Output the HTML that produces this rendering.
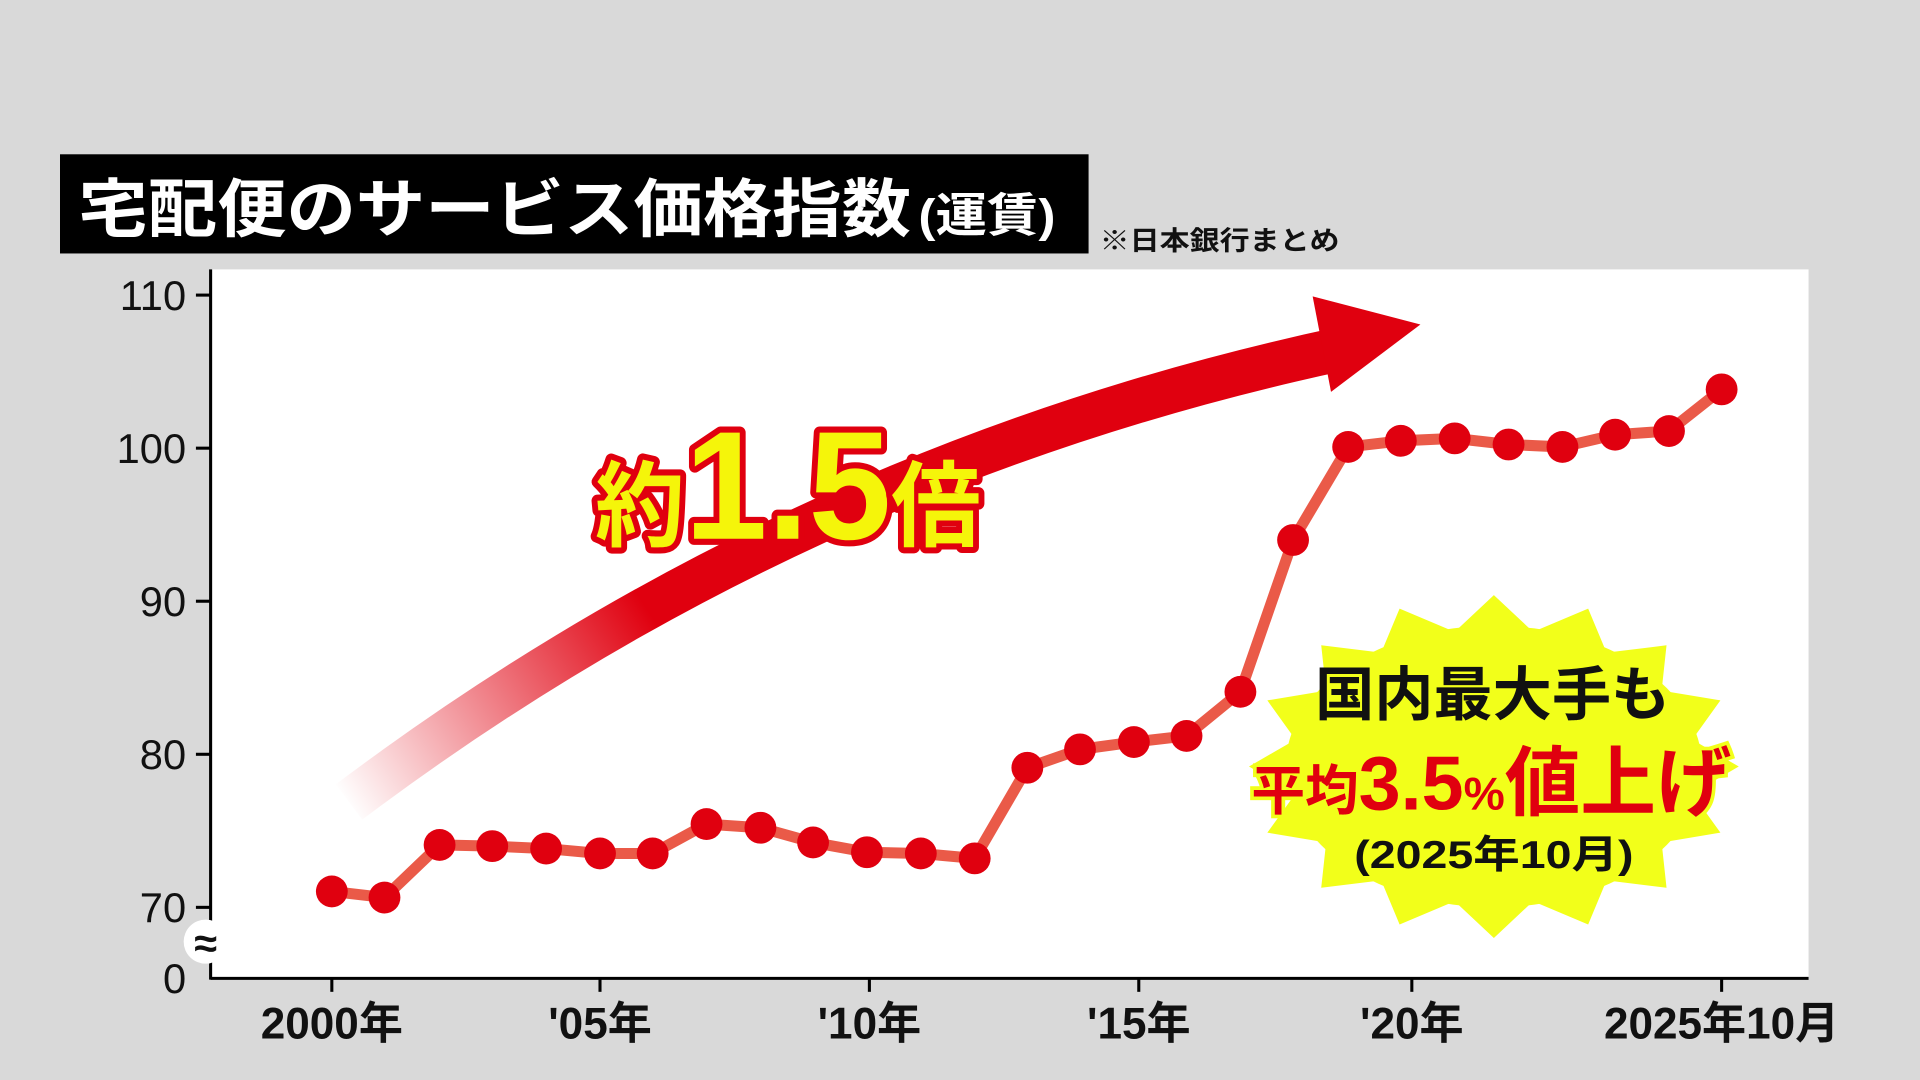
<!DOCTYPE html>
<html><head><meta charset="utf-8"><style>
html,body{margin:0;padding:0;background:#d9d9d9;}
svg{display:block;}
text{font-family:"Liberation Sans","Noto Sans CJK JP",sans-serif;}
</style></head><body>
<svg width="1920" height="1080" viewBox="0 0 1568 882" xmlns="http://www.w3.org/2000/svg">
<defs>
<linearGradient id="ag" gradientUnits="userSpaceOnUse" x1="285" y1="660" x2="530" y2="500">
<stop offset="0" stop-color="#e0000f" stop-opacity="0"/>
<stop offset="1" stop-color="#e0000f" stop-opacity="1"/>
</linearGradient>
</defs>
<rect width="1568" height="882" fill="#d9d9d9"/>
<rect x="172" y="220" width="1305" height="580" fill="#fff"/>
<rect x="49" y="126" width="840" height="81" fill="#000"/>
<text x="64" y="189" font-size="52" font-weight="bold" fill="#fff" textLength="680" lengthAdjust="spacingAndGlyphs">宅配便のサービス価格指数</text>
<text x="750" y="189" font-size="38" font-weight="bold" fill="#fff" textLength="112" lengthAdjust="spacingAndGlyphs">(運賃)</text>
<text x="898" y="204" font-size="22" font-weight="bold" fill="#111" textLength="196" lengthAdjust="spacingAndGlyphs">※日本銀行まとめ</text>
<line x1="172" y1="220" x2="172" y2="800" stroke="#000" stroke-width="2.5"/>
<line x1="172" y1="799" x2="1477" y2="799" stroke="#000" stroke-width="2.5"/>
<g stroke="#000" stroke-width="2.5">
<line x1="160" y1="241" x2="172" y2="241"/><line x1="160" y1="366" x2="172" y2="366"/>
<line x1="160" y1="491" x2="172" y2="491"/><line x1="160" y1="616" x2="172" y2="616"/>
<line x1="160" y1="741" x2="172" y2="741"/>
<line x1="271" y1="799" x2="271" y2="810"/><line x1="490" y1="799" x2="490" y2="810"/>
<line x1="710" y1="799" x2="710" y2="810"/><line x1="930" y1="799" x2="930" y2="810"/>
<line x1="1153" y1="799" x2="1153" y2="810"/><line x1="1406" y1="799" x2="1406" y2="810"/>
</g>
<g font-size="34" fill="#111" text-anchor="end">
<text x="152" y="253">110</text><text x="152" y="378">100</text><text x="152" y="503">90</text>
<text x="152" y="628">80</text><text x="152" y="753">70</text><text x="152" y="811">0</text>
</g>
<circle cx="168" cy="769" r="18" fill="#fff"/>
<text x="168" y="782" font-size="34" font-weight="bold" text-anchor="middle" fill="#111">≈</text>
<g font-size="36" font-weight="bold" fill="#111" text-anchor="middle">
<text x="271" y="848">2000年</text><text x="490" y="848">'05年</text><text x="710" y="848">'10年</text>
<text x="930" y="848">'15年</text><text x="1153" y="848">'20年</text><text x="1406" y="848">2025年10月</text>
</g>
<path d="M285,655 Q650,380 1095,285" fill="none" stroke="url(#ag)" stroke-width="36"/>
<polygon points="1072,242 1160,265 1087,320" fill="#e0000f"/>
<polygon fill="#f2ff1a" points="1420,626 1382,648 1405,680 1357,688 1361,725 1312,719 1297,755 1252,736 1220,766 1188,736 1143,755 1128,719 1079,725 1083,688 1035,680 1058,648 1020,626 1058,604 1035,572 1083,564 1079,527 1128,533 1143,497 1188,516 1220,486 1252,516 1297,497 1312,533 1361,527 1357,564 1405,572 1382,604"/>
<ellipse cx="1220" cy="626" rx="170" ry="115" fill="#f2ff1a"/>
<polyline fill="none" stroke="#ea5a48" stroke-width="9" stroke-linejoin="round" points="271,728 314,733 359,690 402,691 446,693 490,697 533,697 577,673 621,676 664,688 708,696 752,697 796,701 839,627 882,612 926,606 969,601 1013,565 1056,441 1101,365 1144,360 1188,358 1232,363 1276,365 1319,355 1363,352 1406,318"/>
<g fill="#e0000f">
<circle cx="271" cy="728" r="13"/><circle cx="314" cy="733" r="13"/><circle cx="359" cy="690" r="13"/><circle cx="402" cy="691" r="13"/><circle cx="446" cy="693" r="13"/><circle cx="490" cy="697" r="13"/><circle cx="533" cy="697" r="13"/><circle cx="577" cy="673" r="13"/><circle cx="621" cy="676" r="13"/><circle cx="664" cy="688" r="13"/><circle cx="708" cy="696" r="13"/><circle cx="752" cy="697" r="13"/><circle cx="796" cy="701" r="13"/><circle cx="839" cy="627" r="13"/><circle cx="882" cy="612" r="13"/><circle cx="926" cy="606" r="13"/><circle cx="969" cy="601" r="13"/><circle cx="1013" cy="565" r="13"/><circle cx="1056" cy="441" r="13"/><circle cx="1101" cy="365" r="13"/><circle cx="1144" cy="360" r="13"/><circle cx="1188" cy="358" r="13"/><circle cx="1232" cy="363" r="13"/><circle cx="1276" cy="365" r="13"/><circle cx="1319" cy="355" r="13"/><circle cx="1363" cy="352" r="13"/><circle cx="1406" cy="318" r="13"/>
</g>
<text x="486" y="440" font-weight="bold" fill="#f5f50a" stroke="#e0000f" stroke-width="10" stroke-linejoin="round" paint-order="stroke" textLength="315" lengthAdjust="spacingAndGlyphs"><tspan font-size="76">約</tspan><tspan font-size="126">1.5</tspan><tspan font-size="76">倍</tspan></text>
<text x="1074" y="584" font-size="48" font-weight="bold" fill="#111" textLength="290" lengthAdjust="spacingAndGlyphs">国内最大手も</text>
<text x="1022" y="661" font-weight="bold" fill="#e0000f" stroke="#f2ff1a" stroke-width="6" paint-order="stroke" textLength="392" lengthAdjust="spacingAndGlyphs"><tspan font-size="44">平均</tspan><tspan font-size="62">3.5</tspan><tspan font-size="38">%</tspan><tspan font-size="62">値上げ</tspan></text>
<text x="1106" y="709" font-size="32" font-weight="bold" fill="#111" textLength="228" lengthAdjust="spacingAndGlyphs">(2025年10月)</text>
</svg>
</body></html>
